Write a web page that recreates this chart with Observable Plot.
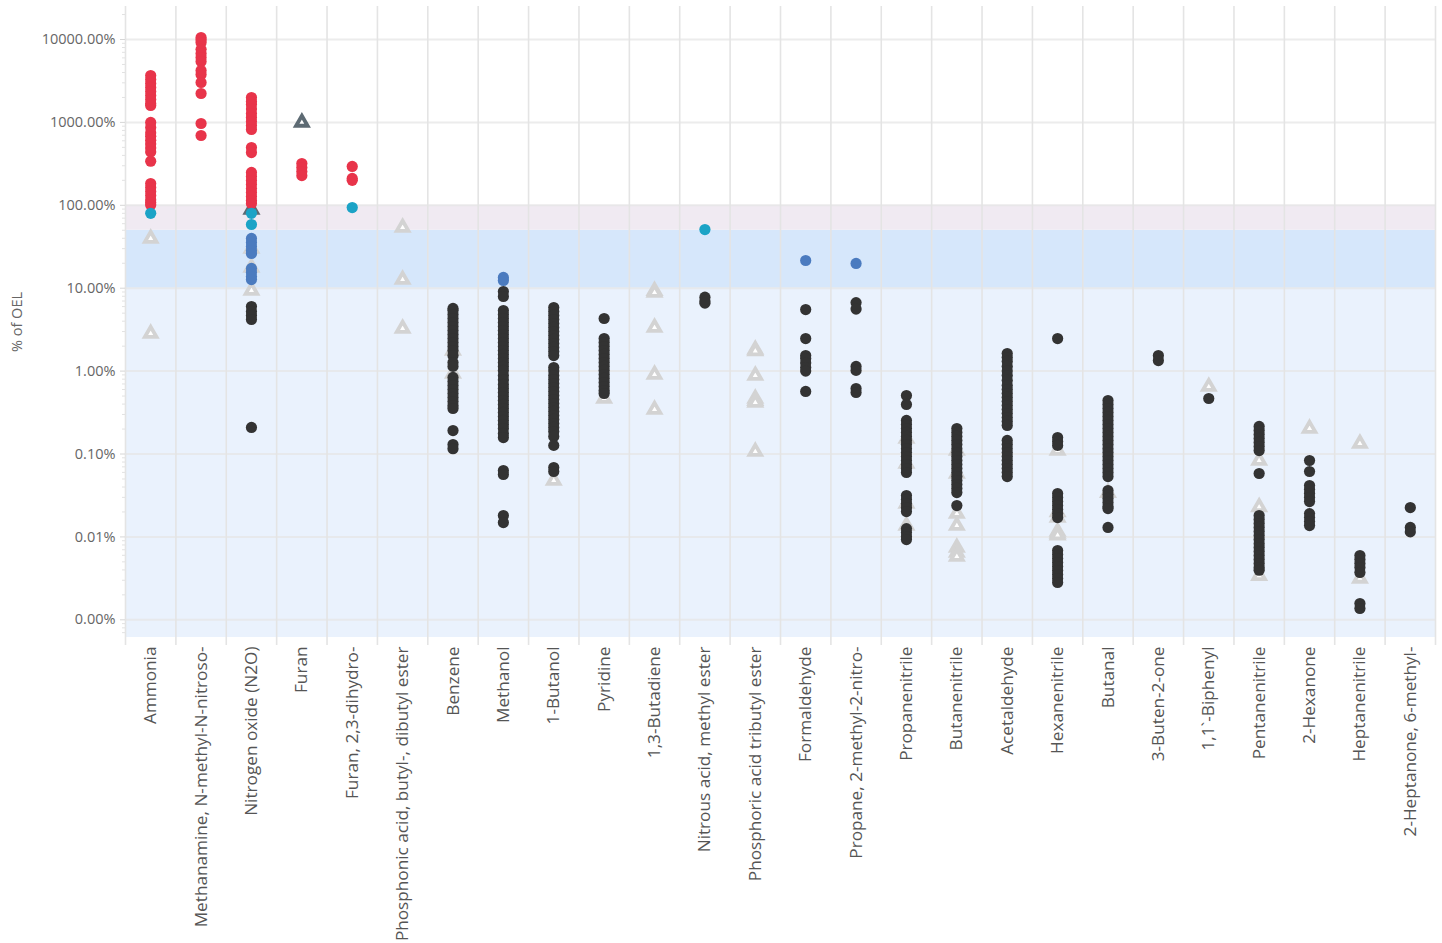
<!DOCTYPE html>
<html>
<head>
<meta charset="utf-8">
<script src="https://cdn.jsdelivr.net/npm/d3@7"></script>
<script src="https://cdn.jsdelivr.net/npm/@observablehq/plot@0.6"></script>
<style>
  html, body { margin: 0; padding: 0; background: #ffffff; }
  #chart svg { display: block; }
</style>
</head>
<body>
<div id="chart"></div>
<script>
// ---------- data (% of OEL) ----------
const categories = [
  "Ammonia", "Methanamine, N-methyl-N-nitroso-", "Nitrogen oxide (N2O)", "Furan",
  "Furan, 2,3-dihydro-", "Phosphonic acid, butyl-, dibutyl ester", "Benzene", "Methanol",
  "1-Butanol", "Pyridine", "1,3-Butadiene", "Nitrous acid, methyl ester",
  "Phosphoric acid tributyl ester", "Formaldehyde", "Propane, 2-methyl-2-nitro-", "Propanenitrile",
  "Butanenitrile", "Acetaldehyde", "Hexanenitrile", "Butanal", "3-Buten-2-one",
  "1,1`-Biphenyl", "Pentanenitrile", "2-Hexanone", "Heptanenitrile", "2-Heptanone, 6-methyl-"
];

// measured concentrations, one list per compound (same order as categories)
const measured = [
  [3680, 3290, 2950, 2640, 2360, 2110, 1890, 1690, 1600, 1000, 870, 750, 680, 610, 550, 490, 440, 340, 183, 164, 147, 131, 117, 108, 101, 80],
  [10570, 9900, 9200, 7600, 6770, 6060, 5430, 4230, 3790, 3030, 2230, 970, 695],
  [1997, 1787, 1643, 1450, 1280, 1146, 1025, 918, 821, 498, 433, 249, 223, 199, 178, 159, 143, 128, 114, 105, 80, 58.7, 39.8, 35.6, 31.8, 28.5, 26.2, 17.3, 15.5, 13.8, 12.7, 6.02, 5.24, 4.69, 4.19, 0.209],
  [319, 285, 255, 228],
  [294, 211, 200, 94],
  [],
  [5.7, 5.38, 4.82, 4.31, 3.86, 3.45, 3.09, 2.76, 2.47, 2.21, 1.98, 1.77, 1.54, 1.27, 1.14, 0.838, 0.749, 0.670, 0.600, 0.537, 0.481, 0.430, 0.385, 0.354, 0.192, 0.130, 0.116],
  [13.5, 12.4, 9.12, 7.94, 5.38, 4.82, 4.31, 3.86, 3.45, 3.09, 2.76, 2.47, 2.21, 1.98, 1.77, 1.59, 1.42, 1.27, 1.14, 1.02, 0.885, 0.78, 0.69, 0.617, 0.552, 0.494, 0.442, 0.396, 0.354, 0.317, 0.283, 0.254, 0.227, 0.203, 0.177, 0.158, 0.0632, 0.0566, 0.0181, 0.0149],
  [5.85, 5.24, 4.69, 4.19, 3.75, 3.36, 3.00, 2.69, 2.41, 2.15, 1.93, 1.72, 1.54, 1.105, 1.00, 0.885, 0.792, 0.709, 0.634, 0.567, 0.508, 0.454, 0.406, 0.364, 0.326, 0.291, 0.261, 0.233, 0.209, 0.187, 0.163, 0.127, 0.0687, 0.0615],
  [4.31, 2.47, 2.21, 1.98, 1.77, 1.59, 1.42, 1.27, 1.14, 1.02, 0.910, 0.815, 0.729, 0.652, 0.583, 0.537],
  [],
  [51, 7.8, 7.0, 6.6],
  [],
  [21.6, 5.53, 2.47, 1.54, 1.42, 1.25, 1.105, 1.00, 0.568],
  [19.9, 6.7, 5.6, 1.14, 1.02, 0.617, 0.552],
  [0.508, 0.396, 0.254, 0.227, 0.203, 0.182, 0.163, 0.146, 0.130, 0.116, 0.104, 0.0933, 0.0835, 0.0747, 0.0669, 0.0598, 0.0316, 0.0283, 0.0253, 0.0226, 0.0202, 0.0126, 0.0113, 0.0101, 0.0093],
  [0.203, 0.182, 0.163, 0.146, 0.130, 0.116, 0.104, 0.0933, 0.0835, 0.0747, 0.0669, 0.0598, 0.0535, 0.0479, 0.0429, 0.0384, 0.0343, 0.0239],
  [1.63, 1.46, 1.31, 1.14, 1.0, 0.885, 0.771, 0.670, 0.600, 0.537, 0.481, 0.430, 0.385, 0.344, 0.308, 0.275, 0.247, 0.221, 0.146, 0.130, 0.116, 0.104, 0.0933, 0.0835, 0.0747, 0.0669, 0.0598, 0.0535],
  [2.47, 0.158, 0.142, 0.127, 0.0334, 0.0299, 0.0267, 0.0239, 0.0214, 0.0191, 0.0171, 0.00686, 0.00614, 0.00549, 0.00491, 0.00439, 0.00393, 0.00352, 0.00315, 0.00282],
  [0.442, 0.396, 0.354, 0.317, 0.283, 0.254, 0.227, 0.203, 0.182, 0.163, 0.146, 0.130, 0.116, 0.104, 0.0933, 0.0835, 0.0747, 0.0669, 0.0598, 0.0535, 0.0363, 0.0325, 0.0291, 0.0261, 0.0233, 0.0220, 0.0130],
  [1.54, 1.34],
  [0.467],
  [0.215, 0.192, 0.172, 0.154, 0.138, 0.123, 0.110, 0.0582, 0.0181, 0.0162, 0.0145, 0.0130, 0.0116, 0.0104, 0.0093, 0.0083, 0.00745, 0.00667, 0.00597, 0.00534, 0.00478, 0.00427, 0.00396],
  [0.0835, 0.0615, 0.0417, 0.0373, 0.0334, 0.0299, 0.0267, 0.0191, 0.0171, 0.0153, 0.0137],
  [0.00597, 0.00534, 0.00478, 0.00427, 0.00372, 0.00157, 0.00137],
  [0.0226, 0.0130, 0.0115]
];

// light-grey triangle markers, one list per compound
const triangles = [
  [39.8, 2.84], [], [30.1, 17.8, 9.4], [], [], [54, 12.7, 3.27], [1.77, 0.935], [],
  [0.0479], [0.467], [9.3, 8.88, 3.36, 0.910, 0.344], [], [1.82, 1.75, 0.885, 0.467, 0.44, 0.418, 0.107],
  [], [], [0.154, 0.0768, 0.0253, 0.0137], [0.110, 0.0582, 0.0191, 0.0137, 0.00745, 0.00648, 0.00580],
  [], [0.110, 0.0200, 0.0171, 0.0116, 0.0110, 0.0105], [0.034], [], [0.65],
  [0.0835, 0.023, 0.0034], [0.203], [0.134, 0.00316], []
];

// dark-grey triangle markers
const darkTriangleCompounds = ["Nitrogen oxide (N2O)", "Furan"];
const darkTriangleValues = [89, 1000];

// thresholds (% of OEL) and colours
const bandEdges = [10, 50, 100];
const bandColors = ["#eaf2fd", "#d6e7fb", "#f0eaf2"];
const dotColors = ["#333333", "#4b7bbf", "#1ba3c6", "#e8344a"];
const yDomain = [0.000612, 25000];
const yTickLabels = ["0.00%", "0.01%", "0.10%", "1.00%", "10.00%", "100.00%", "1000.00%", "10000.00%"];

// ---------- build ----------
const dots = categories.flatMap((c, i) => measured[i].map(v => ({compound: c, value: v})));
const tris = categories.flatMap((c, i) => triangles[i].map(v => ({compound: c, value: v})));
const darkTris = darkTriangleCompounds.map((c, i) => ({compound: c, value: darkTriangleValues[i]}));
const bands = [
  {lo: yDomain[0], hi: bandEdges[0], color: bandColors[0]},
  {lo: bandEdges[0], hi: bandEdges[1], color: bandColors[1]},
  {lo: bandEdges[1], hi: bandEdges[2], color: bandColors[2]}
];
const decades = d3.range(-3, 5).map(k => 10 ** k);
const minor = d3.range(-4, 5).flatMap(k => d3.range(2, 10).map(m => m * 10 ** k))
  .filter(v => v >= yDomain[0] && v <= yDomain[1]);

const W = 1442, H = 943, ML = 125, MR = 7, MT = 6, MB = 306;
const bw = (W - ML - MR) / categories.length;
const font = "'Open Sans', 'Noto Sans', sans-serif";

const chart = Plot.plot({
  width: W, height: H,
  marginLeft: ML, marginRight: MR, marginTop: MT, marginBottom: MB,
  style: {fontFamily: font, background: "#ffffff", overflow: "visible"},
  x: {type: "band", domain: categories, padding: 0, round: false},
  y: {type: "log", domain: yDomain},
  color: {type: "threshold", domain: bandEdges, range: dotColors},
  marks: [
    ...bands.map(b => Plot.rect([b], {y1: "lo", y2: "hi", fill: b.color})),
    Plot.ruleY(decades, {stroke: "#e6e6e6", strokeOpacity: 0.75, strokeWidth: 2}),
    Plot.ruleX(categories, {x: d => d, dx: -bw / 2, stroke: "#e4e4e4", strokeWidth: 1.6, insetBottom: -8}),
    Plot.ruleX(categories.slice(-1), {x: d => d, dx: bw / 2, stroke: "#e4e4e4", strokeWidth: 1.6, insetBottom: -8}),
    Plot.dot(tris, {x: "compound", y: "value", symbol: "triangle", r: 4.3, stroke: "#d3d3d3", strokeWidth: 3.8, fill: "#ffffff"}),
    Plot.dot(darkTris, {x: "compound", y: "value", symbol: "triangle", r: 4.3, stroke: "#5d6a73", strokeWidth: 3.8, fill: "#ffffff"}),
    Plot.dot(dots, {x: "compound", y: "value", r: 5.6, fill: "value"}),
    Plot.axisY({ticks: minor, tickSize: 3, tickFormat: () => "", stroke: "#e2e2e2", label: null}),
    Plot.axisY({ticks: decades, tickSize: 5, tickPadding: 5, stroke: "#d6d6d6",
      tickFormat: d => yTickLabels[decades.indexOf(d)],
      fontSize: 14.5, fill: "#666666",
      label: "% of OEL", labelAnchor: "center", labelArrow: "none", labelOffset: 114}),
    Plot.axisX({tickRotate: -90, tickSize: 0, tickPadding: 9, fontSize: 17.2, fill: "#555555", label: null})
  ]
});
document.getElementById("chart").appendChild(chart);
</script>
</body>
</html>
